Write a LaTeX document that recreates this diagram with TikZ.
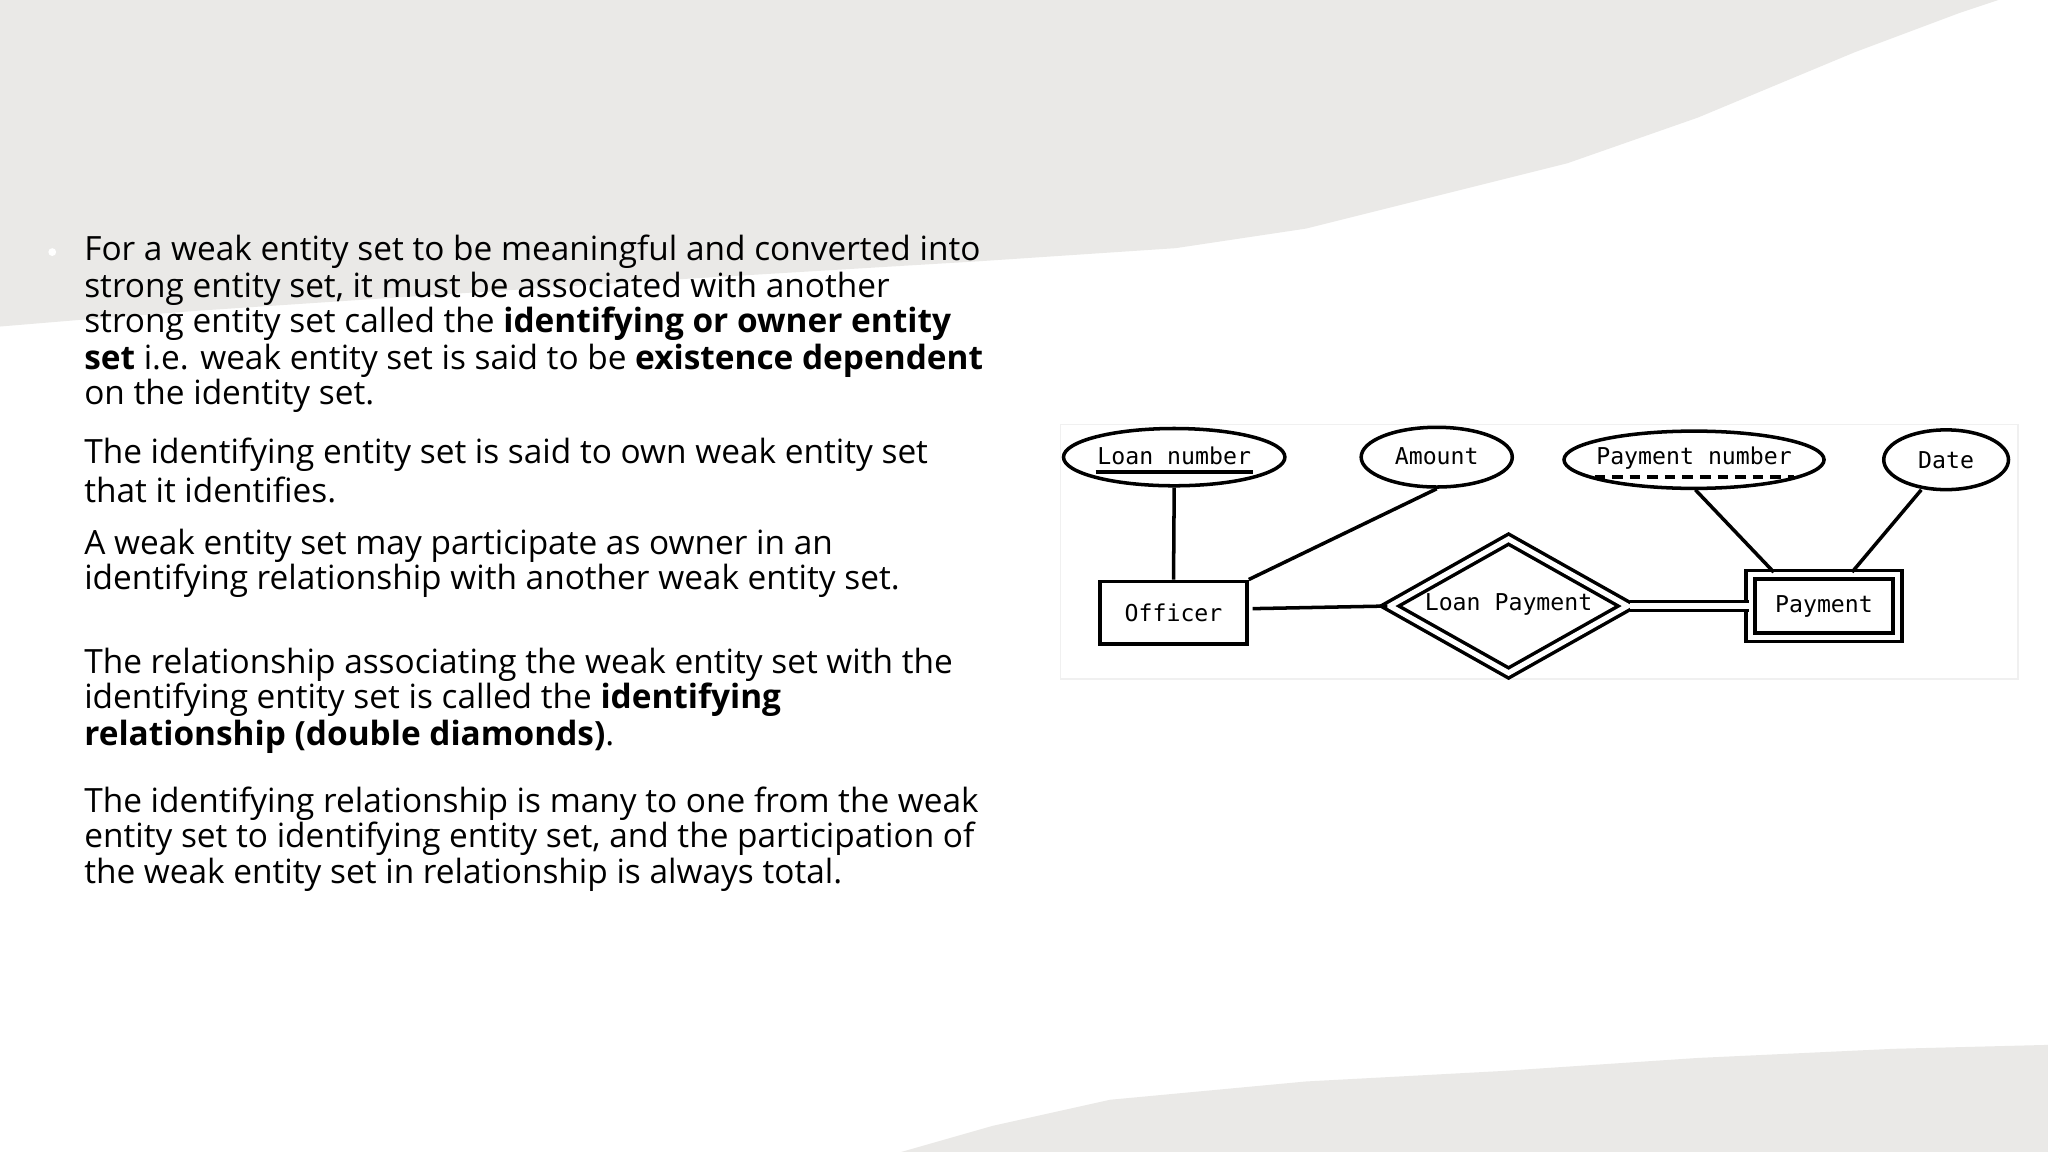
\documentclass[tikz,border=0pt]{standalone}
\usepackage{fontspec}
\setmainfont{Open Sans}
\newfontfamily\erfont{DejaVu Sans Mono}
\usetikzlibrary{shapes.geometric,calc}
\definecolor{bggrey}{HTML}{EAE9E7}
\begin{document}
\begin{tikzpicture}[x=0.013061cm,y=-0.013061cm,
  txt/.style={anchor=west,inner sep=0pt,font=\fontsize{9.5}{10}\selectfont},
  er/.style={font=\erfont\fontsize{6.6}{7}\selectfont,line width=1pt},
  attr/.style={er,draw,ellipse,inner sep=0pt},
  lnk/.style={line width=1pt}]
\useasboundingbox (0,0) rectangle (1568,882);
\fill[white] (0,0) rectangle (1568,882);
\fill[bggrey] (0,0) -- (1530,0) -- (1500,10) -- (1420,40) -- (1300,90) -- (1200,125) -- (1100,150) -- (1000,175) -- (900,190) -- (750,200) -- (500,215) -- (300,228) -- (150,238) -- (60,245) -- (0,250) -- cycle;
\fill[bggrey] (690,882) -- (760,862) -- (850,842) -- (1000,828) -- (1150,820) -- (1300,810) -- (1450,803) -- (1568,800) -- (1568,882) -- cycle;
% bullet
\fill[white] (40,193) circle (3);
% text
\node[txt] (l1) at (64,193) {For a weak entity set to be meaningful and converted into};
\node[txt] (l2) at (64,221) {strong entity set, it must be associated with another};
\node[txt] (l3) at (64,248) {strong entity set called the \textbf{identifying or owner entity}};
\node[txt] (l4) at (64,276) {\textbf{set} i.e. weak entity set is said to be \textbf{existence dependent}};
\node[txt] (l5) at (64,303) {on the identity set.};
\node[txt] (l6) at (64,348) {The identifying entity set is said to own weak entity set};
\node[txt] (l7) at (64,375) {that it identifies.};
\node[txt] (l8) at (64,418) {A weak entity set may participate as owner in an};
\node[txt] (l9) at (64,445) {identifying relationship with another weak entity set.};
\node[txt] (l10) at (64,509) {The relationship associating the weak entity set with the};
\node[txt] (l11) at (64,536) {identifying entity set is called the \textbf{identifying}};
\node[txt] (l12) at (64,564) {\textbf{relationship (double diamonds)}.};
\node[txt] (l13) at (64,615) {The identifying relationship is many to one from the weak};
\node[txt] (l14) at (64,642) {entity set to identifying entity set, and the participation of};
\node[txt] (l15) at (64,670) {the weak entity set in relationship is always total.};
% diagram panel
\fill[white] (812,325) rectangle (1545,520);
\draw[black!6] (812,325) rectangle (1545,520);
\node[attr,minimum width=63pt,minimum height=16.3pt] (ln) at (899,350) {};
\node[er,inner sep=0pt] (lnt) at (899,349) {Loan number};
\draw[line width=1.2pt] ($(lnt.south west)+(0,4)$) -- ($(lnt.south east)+(0,4)$);
\node[attr,minimum width=43pt,minimum height=17pt] (am) at (1100,350) {};
\node[er] (amt) at (1100,349) {Amount};
\node[attr,minimum width=74pt,minimum height=16.3pt] (pn) at (1297,352) {};
\node[er,inner sep=0pt] (pnt) at (1297,351) {Payment number};
\draw[line width=1.2pt,dash pattern=on 3pt off 2pt] ($(pnt.south west)+(0,4)$) -- ($(pnt.south east)+(0,4)$);
\node[attr,minimum width=35.5pt,minimum height=17pt] (dt) at (1490,352) {};
\node[er] (dtt) at (1490,352) {Date};
\node[er,draw,minimum width=41.8pt,minimum height=17.8pt,inner sep=0pt] (of) at (898.5,469) {Officer};
\node[er,draw,diamond,minimum width=68pt,minimum height=38.5pt,inner sep=0pt,double,double distance=1.5pt] (lp) at (1155,464) {};
\node[er] (lpt) at (1155,463) {Loan Payment};
\node[er,draw,minimum width=41.8pt,minimum height=17.8pt,inner sep=0pt,double,double distance=1.5pt] (pa) at (1396.5,464) {Payment};
\coordinate (pa1) at (1358,438);
\coordinate (pa2) at (1418,438);
\coordinate (pn1) at (1298,375);
\coordinate (dt1) at (1471,375);
\draw[lnk] (ln.south) -- (of.north);
\draw[lnk] (am.south) -- (of.north east);
\draw[lnk] ($(of.east)+(3,-3)$) -- (lp.west);
\draw[lnk,double,double distance=1.5pt] (lp.east) -- (pa.west);
\draw[lnk] (pn1) -- (pa1);
\draw[lnk] (dt1) -- (pa2);
\end{tikzpicture}
\end{document}
